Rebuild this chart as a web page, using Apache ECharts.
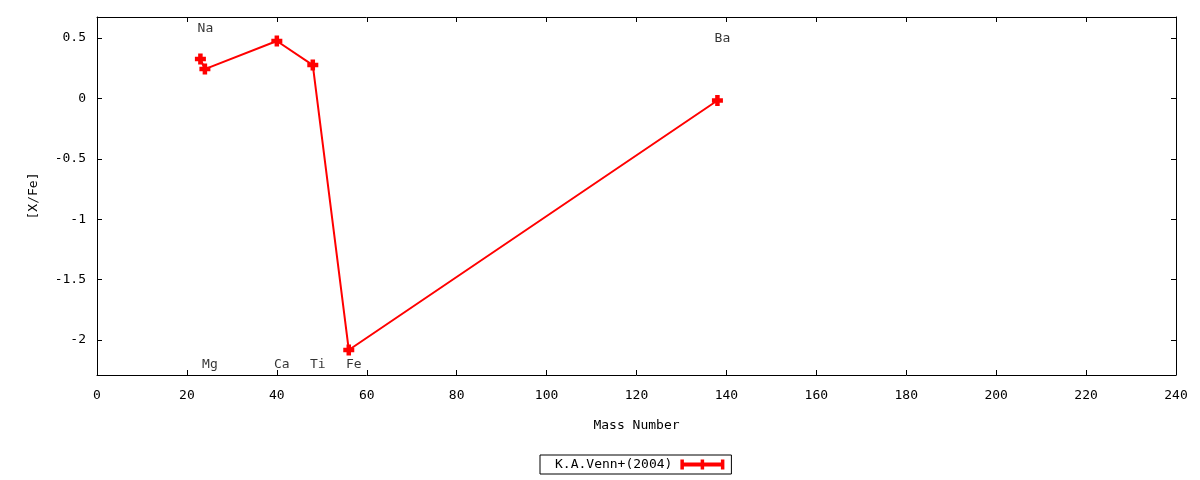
<!DOCTYPE html>
<html>
<head>
<meta charset="utf-8">
<script src="https://cdn.jsdelivr.net/npm/echarts@6/dist/echarts.min.js"></script>
<style>html,body{margin:0;padding:0;background:#fff}#c{width:1200px;height:480px}</style>
</head>
<body>
<div id="c"></div>
<script>
const elements = ['Na', 'Mg', 'Ca', 'Ti', 'Fe', 'Ba'];
const massNumbers = [23, 24, 40, 48, 56, 138];
const xFe = [0.326, 0.243, 0.475, 0.276, -2.083, -0.017];
const labelY = [0.58, -2.205, -2.205, -2.205, -2.205, 0.495];
const seriesName = 'K.A.Venn+(2004)';
const xTicks = { min: 0, max: 240, interval: 20 };
const yRange = { min: -2.29, max: 0.674 };
const yTicks = [-2, -1.5, -1, -0.5, 0, 0.5];

const FONT = 'DejaVu Sans Mono';
const plusPath = 'path://M3.25,0H7.75V3.25H11V7.75H7.75V11H3.25V7.75H0V3.25H3.25Z';
const legendPath = 'path://M0,0H3.5V3H20.25V0H23.75V3H40.5V0H44V10H40.5V7H23.75V10H20.25V7H3.5V10H0Z';

const chart = echarts.init(document.getElementById('c'), null, { renderer: 'canvas' });

const lineData = massNumbers.map((m, i) => [m, xFe[i]]);
const labelData = elements.map((e, i) => ({ name: e, value: [massNumbers[i], labelY[i]] }));

const axisLine = { show: true, onZero: false, lineStyle: { color: '#000', width: 1 } };
const tick = { show: true, inside: true, length: 5, lineStyle: { color: '#000' } };
const labelStyle = { color: '#000', fontFamily: FONT, fontSize: 13 };

chart.setOption({
  animation: false,
  backgroundColor: '#fff',
  grid: { left: 97, right: 24, top: 17, bottom: 105, containLabel: false },
  xAxis: [
    {
      type: 'value', position: 'bottom', min: xTicks.min, max: xTicks.max, interval: xTicks.interval,
      axisLine: axisLine, axisTick: tick, splitLine: { show: false },
      name: 'Mass Number', nameLocation: 'middle', nameGap: 44,
      nameTextStyle: labelStyle,
      axisLabel: Object.assign({}, labelStyle, { margin: 14 })
    },
    {
      type: 'value', position: 'top', min: xTicks.min, max: xTicks.max, interval: xTicks.interval,
      axisLine: axisLine, axisTick: tick, splitLine: { show: false },
      axisLabel: { show: false }
    }
  ],
  yAxis: [
    {
      type: 'value', position: 'left', min: yRange.min, max: yRange.max,
      axisLine: axisLine,
      axisTick: Object.assign({}, tick, { customValues: yTicks }),
      splitLine: { show: false },
      name: '[X/Fe]', nameLocation: 'middle', nameGap: 57,
      nameTextStyle: labelStyle,
      axisLabel: Object.assign({}, labelStyle, {
        margin: 11, customValues: yTicks,
        formatter: v => String(Math.round(v * 10) / 10)
      })
    },
    {
      type: 'value', position: 'right', min: yRange.min, max: yRange.max,
      axisLine: axisLine,
      axisTick: Object.assign({}, tick, { customValues: yTicks }),
      splitLine: { show: false },
      axisLabel: { show: false }
    }
  ],
  legend: {
    data: [{ name: seriesName, icon: legendPath }],
    left: 540, top: 455,
    align: 'right',
    itemWidth: 44, itemHeight: 10,
    padding: [3, 7, 3, 15],
    borderColor: '#000', borderWidth: 1, borderRadius: 0,
    textStyle: Object.assign({}, labelStyle, { padding: [0, 3, 0, 0] }),
    itemStyle: { color: '#ff0000' },
    selectedMode: false
  },
  series: [
    {
      name: seriesName,
      type: 'line',
      data: lineData,
      symbol: plusPath,
      symbolSize: 11,
      showAllSymbol: true,
      lineStyle: { color: '#ff0000', width: 2 },
      itemStyle: { color: '#ff0000' },
      z: 3
    },
    {
      name: 'labels',
      type: 'scatter',
      data: labelData,
      symbolSize: 0,
      silent: true,
      label: {
        show: true, position: 'inside', offset: [5, 0],
        formatter: p => p.name,
        color: '#000', fontFamily: FONT, fontSize: 13
      },
      z: 4
    }
  ]
});
</script>
</body>
</html>
